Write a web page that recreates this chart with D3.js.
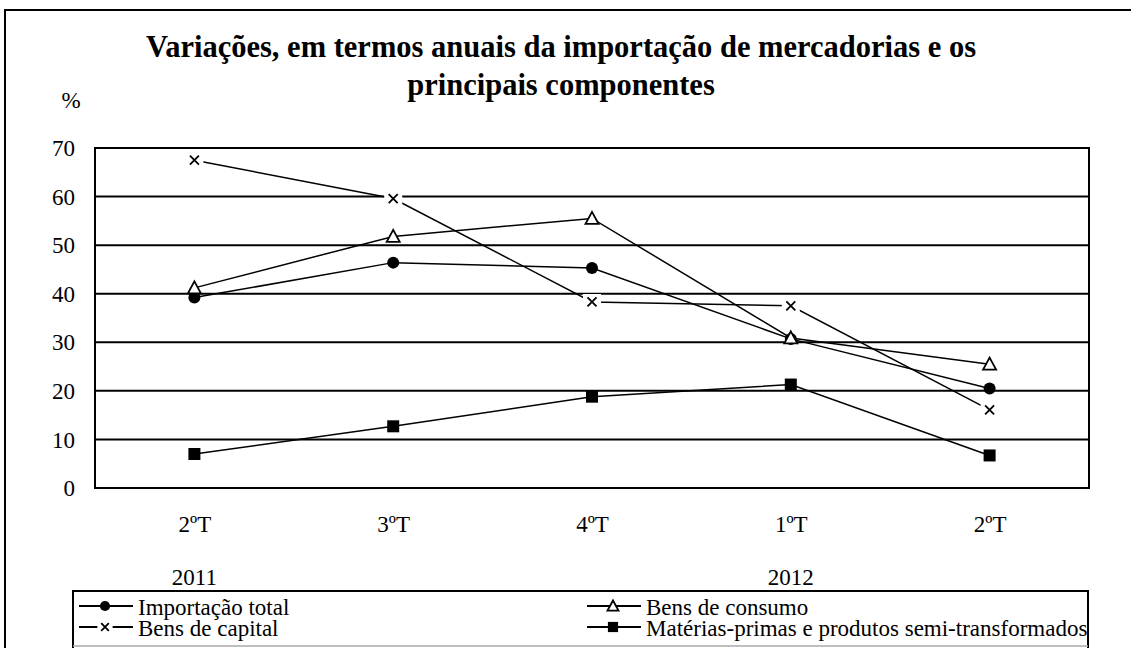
<!DOCTYPE html>
<html>
<head>
<meta charset="utf-8">
<script src="https://cdn.jsdelivr.net/npm/d3@7"></script>
<style>
  body { margin: 0; background: #fff; }
  svg { display: block; }
  svg text { font-family: "Liberation Serif", "Times New Roman", "DejaVu Serif", serif; }
</style>
</head>
<body>
<div id="chart"></div>
<script>
// data
const quarters = ["2ºT", "3ºT", "4ºT", "1ºT", "2ºT "];
const quarterLabels = ["2ºT", "3ºT", "4ºT", "1ºT", "2ºT"];
const years = [{ label: "2011", at: 0 }, { label: "2012", at: 3 }];
const yTicks = [0, 10, 20, 30, 40, 50, 60, 70];

const importacaoTotal = [39.2, 46.4, 45.3, 30.7, 20.5];
const bensConsumo = [41.2, 51.8, 55.5, 30.9, 25.5];
const bensCapital = [67.5, 59.6, 38.3, 37.5, 16.1];
const materiasPrimas = [7.0, 12.7, 18.8, 21.3, 6.7];

const series = [
  { name: "Importação total", values: importacaoTotal, marker: "circle" },
  { name: "Bens de consumo", values: bensConsumo, marker: "triangle" },
  { name: "Bens de capital", values: bensCapital, marker: "cross" },
  { name: "Matérias-primas e produtos semi-transformados", values: materiasPrimas, marker: "square" }
];

const W = 1131, H = 648;
const plot = { left: 95, right: 1089, top: 148, bottom: 488 };
const fs = 23;

const svg = d3.select("#chart").append("svg")
  .attr("width", W).attr("height", H);

// outer frame (top + left, the rest runs off the picture)
svg.append("path")
  .attr("d", `M5,${H}V10H${W}`)
  .attr("fill", "none").attr("stroke", "#000").attr("stroke-width", 2);

// title
const title = svg.append("text")
  .attr("text-anchor", "middle")
  .attr("font-weight", "bold").attr("font-size", 30.5);
title.append("tspan").attr("x", 561).attr("y", 57)
  .text("Variações, em termos anuais da importação de mercadorias e os");
title.append("tspan").attr("x", 561).attr("y", 95)
  .text("principais componentes");

svg.append("text").attr("x", 71).attr("y", 108)
  .attr("text-anchor", "middle").attr("font-size", fs).text("%");

const x = d3.scalePoint().domain(quarters).range([plot.left, plot.right]).padding(0.5);
const y = d3.scaleLinear().domain([0, 70]).range([plot.bottom, plot.top]);

// gridlines
svg.append("g")
  .selectAll("line").data(yTicks.filter(d => d > 0 && d < 70)).join("line")
  .attr("x1", plot.left).attr("x2", plot.right)
  .attr("y1", d => y(d)).attr("y2", d => y(d))
  .attr("stroke", "#000").attr("stroke-width", 2);

svg.append("rect")
  .attr("x", plot.left).attr("y", plot.top)
  .attr("width", plot.right - plot.left).attr("height", plot.bottom - plot.top)
  .attr("fill", "none").attr("stroke", "#000").attr("stroke-width", 2);

// y axis labels
const yAxis = svg.append("g")
  .attr("transform", `translate(${plot.left - 20},0)`)
  .call(d3.axisLeft(y).tickValues(yTicks).tickSize(0).tickPadding(0));
yAxis.select(".domain").remove();
yAxis.attr("font-family", null);
yAxis.selectAll("text")
  .attr("font-size", fs).attr("fill", "#000")
  .attr("dy", "0.33em");

// x axis labels
const xAxis = svg.append("g")
  .attr("transform", `translate(0,${plot.bottom})`)
  .call(d3.axisBottom(x).tickSize(0).tickPadding(0).tickFormat((d, i) => quarterLabels[i]));
xAxis.select(".domain").remove();
xAxis.attr("font-family", null);
xAxis.selectAll("text")
  .attr("font-size", fs).attr("fill", "#000")
  .attr("y", 44).attr("dy", null);

svg.append("g").selectAll("text").data(years).join("text")
  .attr("x", d => x(quarters[d.at])).attr("y", 585)
  .attr("text-anchor", "middle").attr("font-size", fs)
  .text(d => d.label);

// markers
function drawMarker(g, type, cx, cy, k = 1) {
  if (type === "circle") {
    g.append("circle").attr("cx", cx).attr("cy", cy).attr("r", 6 * k).attr("fill", "#000");
  } else if (type === "square") {
    g.append("rect").attr("x", cx - 6 * k).attr("y", cy - 6 * k)
      .attr("width", 12 * k).attr("height", 12 * k).attr("fill", "#000");
  } else if (type === "triangle") {
    g.append("path")
      .attr("d", `M${cx},${cy - 6.5 * k}L${cx + 6.5 * k},${cy + 5.5 * k}L${cx - 6.5 * k},${cy + 5.5 * k}Z`)
      .attr("fill", "#fff").attr("stroke", "#000").attr("stroke-width", 1.8);
  } else if (type === "cross") {
    const s = 4.5 * k;
    const d = `M${cx - s},${cy - s}L${cx + s},${cy + s}M${cx + s},${cy - s}L${cx - s},${cy + s}`;
    g.append("rect").attr("x", cx - 9 * k).attr("y", cy - 8 * k)
      .attr("width", 18 * k).attr("height", 16 * k).attr("fill", "#fff");
    g.append("path").attr("d", d).attr("stroke", "#000").attr("stroke-width", 1.8);
  }
}

const line = d3.line().x((d, i) => x(quarters[i])).y(d => y(d));

const linesG = svg.append("g");
series.forEach(s => {
  linesG.append("path").datum(s.values)
    .attr("d", line)
    .attr("fill", "none").attr("stroke", "#000").attr("stroke-width", 1.5);
});
const markersG = svg.append("g");
series.forEach(s => {
  s.values.forEach((v, i) => drawMarker(markersG, s.marker, x(quarters[i]), y(v)));
});

// legend
svg.append("path")
  .attr("d", `M73,${H}V591H1088V${H}`)
  .attr("fill", "none").attr("stroke", "#000").attr("stroke-width", 2);
svg.append("line").attr("x1", 73).attr("x2", 1088).attr("y1", 646).attr("y2", 646)
  .attr("stroke", "#aaa").attr("stroke-width", 1.5);

const legendPos = [
  { x: 79, y: 606 }, { x: 587, y: 606 }, { x: 79, y: 627 }, { x: 587, y: 627 }
];
const legend = svg.append("g");
series.forEach((s, i) => {
  const p = legendPos[i];
  legend.append("line").attr("x1", p.x).attr("x2", p.x + 54)
    .attr("y1", p.y).attr("y2", p.y).attr("stroke", "#000").attr("stroke-width", 2);
  drawMarker(legend, s.marker, p.x + 26, p.y, 0.85);
  legend.append("text").attr("x", p.x + 59).attr("y", p.y + 9)
    .attr("font-size", fs).text(s.name);
});
</script>
</body>
</html>
